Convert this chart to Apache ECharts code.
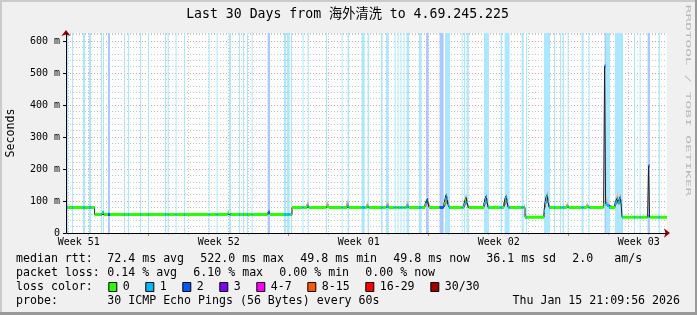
<!DOCTYPE html>
<html><head><meta charset="utf-8">
<script src="https://cdn.jsdelivr.net/npm/echarts@6/dist/echarts.min.js"></script>
<style>html,body{margin:0;padding:0;background:#f0f0f0}#c{width:697px;height:315px}</style>
</head><body><div id="c"></div><script>
// ---------------- data ----------------
const titleText = 'Last 30 Days from 海外清洗 to 4.69.245.225';
const yAxisTitle = 'Seconds';
const watermark = 'RRDTOOL / TOBI OETIKER';
// x = days since graph start (30 day window)
const weekLabels = ['Week 51', 'Week 52', 'Week 01', 'Week 02', 'Week 03'];
const weekLabelDays = [0.59, 7.59, 14.59, 21.59, 28.59];
const weekLineDays = [4.065, 11.065, 18.065, 25.065];
const dayLineDays = [0.065, 1.065, 2.065, 3.065, 4.065, 5.065, 6.065, 7.065, 8.065, 9.065,
  10.065, 11.065, 12.065, 13.065, 14.065, 15.065, 16.065, 17.065, 18.065, 19.065,
  20.065, 21.065, 22.065, 23.065, 24.065, 25.065, 26.065, 27.065, 28.065, 29.065];
const yTickValues = [0, 100, 200, 300, 400, 500, 600];
const yTickLabels = ['0', '100 m', '200 m', '300 m', '400 m', '500 m', '600 m'];

// median rtt (ms), value holds from the given day until the next one
const medianDays = [0.00, 1.38, 1.75, 1.85, 8.03, 8.13, 10.05, 10.15, 11.25,
  12.00, 12.10, 12.98, 13.08, 14.00, 14.10, 14.98, 15.08, 15.98, 16.08, 16.98, 17.08,
  17.90, 17.95, 18.00, 18.05, 18.10,
  18.85, 18.90, 18.95, 19.00, 19.05, 19.10,
  19.85, 19.90, 19.95, 20.00, 20.05,
  20.85, 20.90, 20.95, 21.00, 21.05,
  21.85, 21.90, 21.95, 22.00, 22.05,
  22.90,
  23.85, 23.90, 23.95, 24.00, 24.05, 24.10,
  24.98, 25.08, 25.98, 26.08,
  26.83, 26.88, 26.93, 27.00, 27.10,
  27.40, 27.45, 27.50, 27.55, 27.60, 27.65, 27.70, 27.75,
  29.03, 29.08, 29.13];
const medianMs = [80, 58, 64, 58, 63, 58, 65, 58, 80,
  83, 80, 83, 80, 84, 80, 82, 80, 82, 80, 82, 80,
  88, 98, 105, 94, 80,
  92, 106, 119, 108, 88, 80,
  90, 103, 111, 98, 80,
  92, 106, 115, 100, 80,
  92, 107, 115, 100, 80,
  49,
  68, 95, 112, 119, 100, 80,
  82, 80, 82, 80,
  88, 522, 92, 86, 80,
  92, 98, 108, 96, 104, 112, 96, 49,
  53, 210, 49];
const endDay = 30;

// packet loss periods
const lossStart = [0.00,0.25,0.80,1.10,1.70,1.80,2.05,2.85,3.05,3.65,4.05,4.90,5.03,5.43,5.85,7.08,7.48,8.10,8.60,8.80,9.00,9.23,10.03,10.85,11.00,11.20,11.78,12.03,12.95,13.73,14.03,14.73,15.03,15.70,15.95,16.38,16.53,16.68,16.83,16.98,17.60,17.95,18.63,18.90,19.73,19.85,19.98,20.85,21.68,21.88,22.73,22.95,23.85,24.35,24.65,24.78,25.03,25.73,26.08,26.88,26.95,27.40,28.35,28.63,29.03,29.58];
const lossEnd = [0.05,0.30,0.90,1.20,1.75,1.85,2.15,2.90,3.10,3.70,4.10,4.95,5.08,5.48,5.90,7.13,7.53,8.20,8.65,8.85,9.05,9.28,10.15,10.95,11.13,11.25,11.83,12.08,13.00,13.78,14.10,14.88,15.10,15.78,16.08,16.43,16.58,16.73,16.88,17.10,17.73,18.08,18.83,19.15,19.78,19.90,20.08,21.10,21.75,22.13,22.83,23.00,24.15,24.40,24.70,24.85,25.08,25.83,26.13,26.95,27.15,27.80,28.40,28.68,29.15,29.65];
const lossLevel = [1,1,1,1,1,1,2,1,1,1, 1,1,1,1,1,1,1,1,1,1, 1,1,2,1,1,1,1,1,1,1, 1,1,1,1,1,1,1,1,1,1, 1,2,2,1,1,1,1,1,1,1, 1,1,1,1,1,1,1,1,1,2, 1,1,1,1,2,1];

// smoke (ping spread) columns
const smokeDays = [8.00,8.05,8.10, 11.95,12.00,12.05, 12.95,13.00,13.05, 13.95,14.00,14.05, 14.95,15.00,15.05, 15.95,16.00,16.05, 16.95,17.00,17.05,
  17.85,17.90,17.95,18.00,18.05,18.10,
  18.80,18.85,18.90,18.95,19.00,19.05,19.10,
  19.80,19.85,19.90,19.95,20.00,20.05,
  20.80,20.85,20.90,20.95,21.00,21.05,
  21.80,21.85,21.90,21.95,22.00,22.05,
  22.85,22.90,
  23.80,23.85,23.90,23.95,24.00,24.05,24.10,
  24.95,25.00,25.05, 25.95,26.00,26.05,
  26.93,26.98,27.03,27.08,
  27.35,27.40,27.45,27.50,27.55,27.60,27.65,27.70];
const smokeLow = [58,58,58, 80,80,80, 80,80,80, 80,80,80, 80,80,80, 80,80,80, 80,80,80,
  80,82,86,90,86,80,
  80,82,86,92,90,84,80,
  80,82,86,90,86,80,
  80,84,88,92,88,80,
  80,84,88,92,88,80,
  78,50,
  50,60,80,92,95,88,80,
  80,80,80, 80,80,80,
  84,84,82,80,
  82,86,88,92,88,90,94,88];
const smokeHigh = [62,66,62, 92,103,98, 94,101,95, 96,106,100, 92,98,92, 95,102,96, 95,102,96,
  92,104,112,116,108,94,
  96,108,122,130,126,108,92,
  95,110,120,124,112,92,
  96,112,122,126,114,92,
  96,112,122,127,114,92,
  90,62,
  62,100,120,132,137,120,96,
  92,96,90, 92,96,90,
  118,112,104,96,
  100,115,122,130,120,124,129,112];
const smokeColumn = 0.05;

// legend texts
const rttLabel = 'median rtt:';
const rttStats = ['72.4 ms avg', '522.0 ms max', '49.8 ms min', '49.8 ms now', '36.1 ms sd', '2.0', 'am/s'];
const lossLabel = 'packet loss:';
const lossStats = ['0.14 % avg', '6.10 % max', '0.00 % min', '0.00 % now'];
const lossColorLabel = 'loss color:';
const lossColorNames = ['0', '1', '2', '3', '4-7', '8-15', '16-29', '30/30'];
const lossColors = ['#26ff00', '#00b8ff', '#0059ff', '#7e00ff', '#ff00ff', '#ff5500', '#ff0000', '#a10000'];
const probeLabel = 'probe:';
const probeText = '30 ICMP Echo Pings (56 Bytes) every 60s';
const stampText = 'Thu Jan 15 21:09:56 2026';

// ---------------- styles / layout ----------------
const F = '"DejaVu Sans Mono", "Noto Sans CJK SC", monospace';
const bandColors = {1: '#abe8ff', 2: '#abc8ff'};
const rttX = [107.3, 200.3, 300.3, 393.3, 486.3, 572.3, 614.3];
const lossX = [107.3, 193.3, 279.3, 365.3];
const lineY = [259, 273, 287, 301];

// ---------------- derived series data ----------------
function medianAt(d) {
  let v = medianMs[0];
  for (let i = 0; i < medianDays.length; i++) { if (medianDays[i] <= d + 1e-9) v = medianMs[i]; else break; }
  return v;
}
function lossAt(d) {
  for (let i = 0; i < lossStart.length; i++) if (d >= lossStart[i] && d < lossEnd[i]) return lossLevel[i];
  return 0;
}
const bp = Array.from(new Set([0, endDay].concat(medianDays, lossStart, lossEnd))).sort((a, b) => a - b);
const segs = {0: [], 1: [], 2: []};
for (let i = 0; i < bp.length - 1; i++) {
  const a = bp[i], b = bp[i + 1];
  if (b - a < 1e-9) continue;
  const m = (a + b) / 2, v = medianAt(m), l = lossAt(m);
  segs[l].push([a, v], [b, v], [b, '-']);
}
const medianLine = medianDays.map((d, i) => [d, medianMs[i]]).concat([[endDay, medianMs[medianMs.length - 1]]]);
const bandData = lossStart.map((s, i) => [s, lossEnd[i], lossLevel[i]]);
const smokeData = smokeDays.map((d, i) => [d, smokeLow[i], smokeHigh[i]]);

function nearestLabel(v, vals, labels) {
  let bi = 0; for (let i = 0; i < vals.length; i++) if (Math.abs(vals[i] - v) < Math.abs(vals[bi] - v)) bi = i;
  return labels[bi];
}

// ---------------- graphic (texts & frame) ----------------
function txt(t, x, y, o) {
  return {type: 'text', x: x, y: y, silent: true, z: 50,
    style: Object.assign({text: t, fontSize: 11.6, fontFamily: F, fill: '#000', align: 'left', verticalAlign: 'middle'}, o || {})};
}
const graphic = [];
graphic.push({type: 'rect', z: 40, silent: true, shape: {x: 0, y: 0, width: 697, height: 2}, style: {fill: '#cbcbcb'}});
graphic.push({type: 'rect', z: 40, silent: true, shape: {x: 0, y: 0, width: 2, height: 315}, style: {fill: '#cbcbcb'}});
graphic.push({type: 'rect', z: 41, silent: true, shape: {x: 0, y: 312, width: 697, height: 3}, style: {fill: '#999999'}});
graphic.push({type: 'rect', z: 41, silent: true, shape: {x: 695, y: 0, width: 2, height: 315}, style: {fill: '#999999'}});
graphic.push(txt(titleText, 347.5, 14.5, {fontSize: 13.2, align: 'center'}));
graphic.push(Object.assign(txt(yAxisTitle, 11, 133, {align: 'center'}), {rotation: Math.PI / 2}));
graphic.push(Object.assign(txt(watermark, 688, 100.5, {fontSize: 10, align: 'center', fill: '#b8b8b8'}),
  {rotation: -Math.PI / 2, scaleX: 1.445, scaleY: 0.72}));
graphic.push(txt(rttLabel, 16, lineY[0]));
rttStats.forEach((s, i) => graphic.push(txt(s, rttX[i], lineY[0])));
graphic.push(txt(lossLabel, 16, lineY[1]));
lossStats.forEach((s, i) => graphic.push(txt(s, lossX[i], lineY[1])));
graphic.push(txt(lossColorLabel, 16, lineY[2]));
let lx = 108.3;
lossColorNames.forEach((n, i) => {
  graphic.push({type: 'rect', z: 50, silent: true, shape: {x: lx + 0.5, y: lineY[2] - 4.5, width: 8, height: 9},
    style: {fill: lossColors[i], stroke: '#000', lineWidth: 1}});
  graphic.push(txt(n, lx + 14.4, lineY[2]));
  lx += 30 + 7 * n.length;
});
graphic.push(txt(probeLabel, 16, lineY[3]));
graphic.push(txt(probeText, 107.3, lineY[3]));
graphic.push(txt(stampText, 680, lineY[3], {align: 'right'}));

// ---------------- option ----------------
const X = {type: 'value', min: 0, max: 30, position: 'bottom'};
const Y = {type: 'value', min: 0, max: 625, position: 'left'};
const hidden = {axisLine: {show: false}, axisLabel: {show: false}};
const option = {
  animation: false,
  backgroundColor: '#f0f0f0',
  grid: {left: 67, top: 33, width: 600, height: 200, show: true, backgroundColor: '#ffffff', borderWidth: 0, containLabel: false, outerBoundsMode: 'none'},
  xAxis: [
    Object.assign({}, X, {z: 10,
      axisLine: {show: true, onZero: false, lineStyle: {color: '#000', width: 1}},
      axisTick: {show: false}, splitLine: {show: false},
      axisLabel: {show: true, customValues: weekLabelDays, formatter: v => nearestLabel(v, weekLabelDays, weekLabels),
        margin: 4, color: '#000', fontSize: 10, fontFamily: F}}),
    Object.assign({}, X, hidden, {z: 0.5,
      axisTick: {show: true, customValues: dayLineDays, length: 2, lineStyle: {color: '#bdbdbd'}},
      splitLine: {show: true, lineStyle: {color: '#c8c8c8', type: [1, 2]}}}),
    Object.assign({}, X, hidden, {z: 0.6,
      axisTick: {show: true, customValues: weekLineDays, length: 3, lineStyle: {color: '#e07070'}},
      splitLine: {show: true, lineStyle: {color: '#e89a9a', type: [1, 2]}}}),
    Object.assign({}, X, {z: 9,
      axisLine: {show: true, onZero: false, symbol: ['none', 'arrow'], symbolSize: [7, 6], symbolOffset: [0, 3], lineStyle: {color: '#a00000'}},
      axisLabel: {show: false}, axisTick: {show: false}, splitLine: {show: false}})
  ],
  yAxis: [
    Object.assign({}, Y, {z: 10, offset: 1,
      axisLine: {show: true, onZero: false, lineStyle: {color: '#000'}},
      axisTick: {show: true, customValues: yTickValues, length: 3, lineStyle: {color: '#000'}},
      splitLine: {show: false},
      axisLabel: {show: true, customValues: yTickValues, formatter: v => nearestLabel(v, yTickValues, yTickLabels),
        margin: 6, color: '#000', fontSize: 10, fontFamily: F}}),
    Object.assign({}, Y, hidden, {z: 0.5, interval: 20, axisTick: {show: false},
      splitLine: {show: true, lineStyle: {color: '#c8c8c8', type: [1, 2]}}}),
    Object.assign({}, Y, hidden, {z: 0.6, interval: 100, axisTick: {show: false, customValues: yTickValues},
      splitLine: {show: true, lineStyle: {color: '#d89a9a', type: [1, 2]}}}),
    Object.assign({}, Y, {z: 9, offset: 1,
      axisLine: {show: true, onZero: false, symbol: ['none', 'arrow'], symbolSize: [7, 6], symbolOffset: [0, 3], lineStyle: {color: '#a00000'}},
      axisLabel: {show: false}, axisTick: {show: false}, splitLine: {show: false}})
  ],
  series: [
    {type: 'custom', name: 'loss', z: 1, silent: true, data: bandData, encode: {x: [0, 1]},
      renderItem: function (params, api) {
        const p0 = api.coord([api.value(0), 625]);
        const p1 = api.coord([api.value(1), 0]);
        return {type: 'rect', shape: {x: p0[0], y: p0[1], width: p1[0] - p0[0], height: p1[1] - p0[1]},
          style: {fill: bandColors[api.value(2)]}};
      }},
    {type: 'custom', name: 'smoke', z: 2, silent: true, data: smokeData, encode: {x: 0, y: [1, 2]},
      renderItem: function (params, api) {
        const d = api.value(0);
        const p0 = api.coord([d, api.value(2)]);
        const p1 = api.coord([d + smokeColumn, api.value(1)]);
        return {type: 'rect', shape: {x: p0[0], y: p0[1], width: p1[0] - p0[0], height: p1[1] - p0[1]},
          style: {fill: new echarts.graphic.LinearGradient(0, 0, 0, 1, [{offset: 0, color: '#dedede'}, {offset: 1, color: '#7a7a7a'}])}};
      }},
    {type: 'line', name: 'median', z: 3, step: 'end', data: medianLine, showSymbol: false, symbol: 'none',
      lineStyle: {color: '#202020', width: 1}, silent: true},
    {type: 'line', name: 'l0', z: 4, data: segs[0], showSymbol: false, symbol: 'none', connectNulls: false,
      lineStyle: {color: lossColors[0], width: 3, cap: 'butt'}, silent: true},
    {type: 'line', name: 'l1', z: 4, data: segs[1], showSymbol: false, symbol: 'none', connectNulls: false,
      lineStyle: {color: lossColors[1], width: 3, cap: 'butt'}, silent: true},
    {type: 'line', name: 'l2', z: 4, data: segs[2], showSymbol: false, symbol: 'none', connectNulls: false,
      lineStyle: {color: lossColors[2], width: 3, cap: 'butt'}, silent: true}
  ],
  graphic: graphic
};
const chart = echarts.init(document.getElementById('c'), null, {renderer: 'canvas'});
chart.setOption(option);
</script></body></html>
